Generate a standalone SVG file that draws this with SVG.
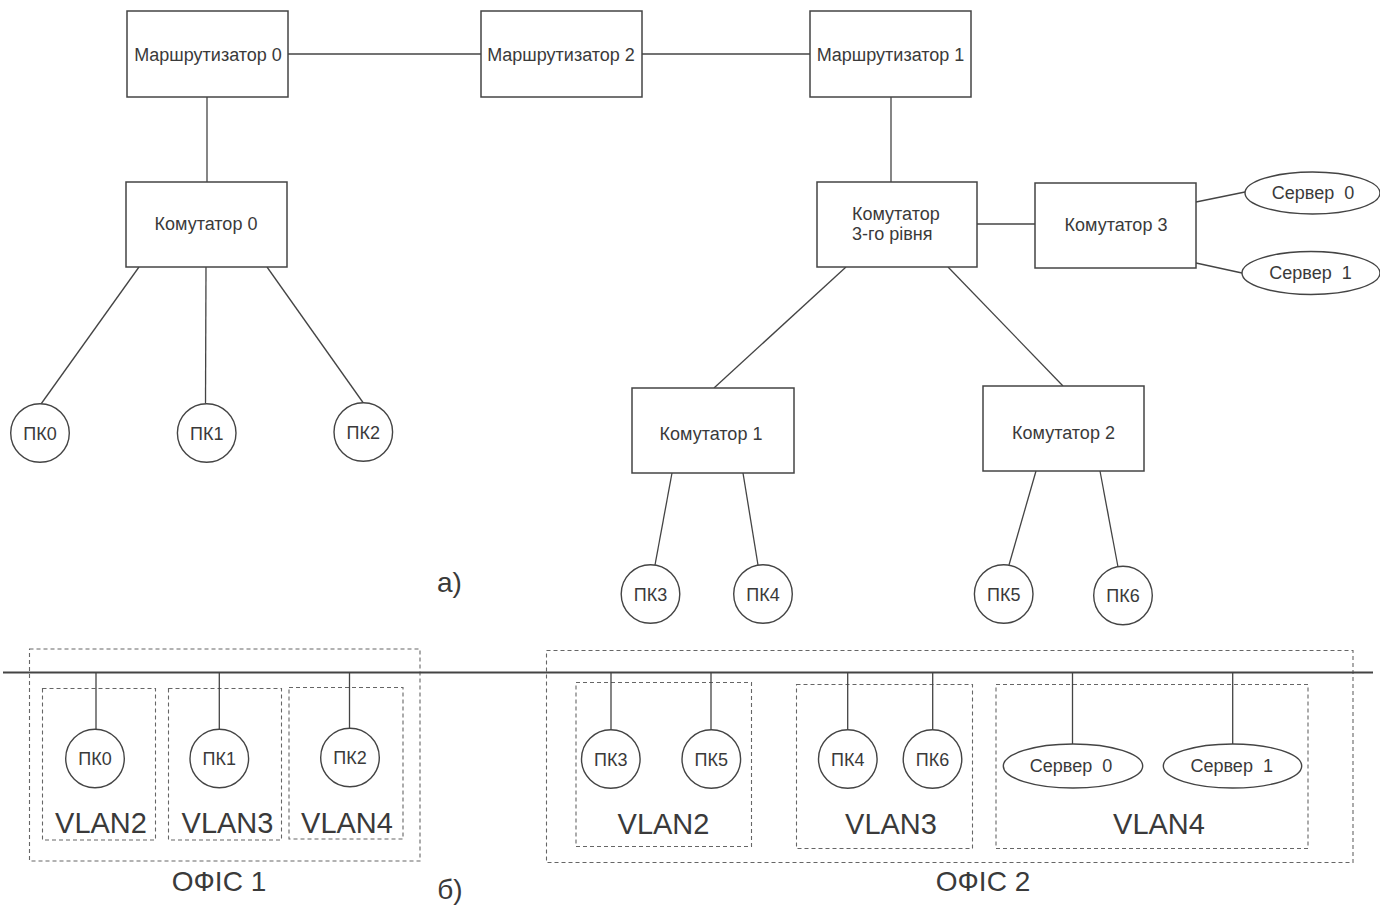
<svg xmlns="http://www.w3.org/2000/svg" width="1380" height="905" viewBox="0 0 1380 905">
  <style>
    .box { fill: #fff; stroke: #444; stroke-width: 1.5; }
    .pc { fill: #fff; stroke: #444; stroke-width: 1.4; }
    .link { stroke: #444; stroke-width: 1.3; fill: none; }
    .bus { stroke: #444; stroke-width: 2; fill: none; }
    .zone { fill: none; stroke: #666; stroke-width: 1.1; stroke-dasharray: 4 3; }
    text { font-family: "Liberation Sans", Arial, sans-serif; fill: #3a3a3a; }
    .lbl { font-size: 18px; text-anchor: middle; }
    .big { font-size: 29px; text-anchor: middle; }
    .cap { font-size: 28px; text-anchor: middle; }
  </style>

  <!-- (a) connectors -->
  <g id="connectors-a">
    <line class="link" x1="288" y1="54" x2="481" y2="54"/>
    <line class="link" x1="642" y1="54" x2="810" y2="54"/>
    <line class="link" x1="207" y1="97" x2="207" y2="182"/>
    <line class="link" x1="891" y1="97" x2="891" y2="182"/>
    <line class="link" x1="139" y1="267" x2="41" y2="404"/>
    <line class="link" x1="206" y1="267" x2="205.5" y2="403.5"/>
    <line class="link" x1="267" y1="267" x2="363" y2="402.5"/>
    <line class="link" x1="977" y1="224" x2="1035" y2="224"/>
    <line class="link" x1="1196" y1="202" x2="1245" y2="192"/>
    <line class="link" x1="1196" y1="263" x2="1242" y2="273"/>
    <line class="link" x1="846" y1="267" x2="714" y2="388"/>
    <line class="link" x1="948" y1="267" x2="1063" y2="386"/>
    <line class="link" x1="672" y1="473" x2="655" y2="565"/>
    <line class="link" x1="743" y1="473" x2="758" y2="565"/>
    <line class="link" x1="1036" y1="471" x2="1009" y2="565"/>
    <line class="link" x1="1100" y1="471" x2="1118" y2="567"/>
  </g>

  <!-- (a) nodes -->
  <g id="router0"><rect class="box" x="127" y="11" width="161" height="86"/><text class="lbl" x="208" y="61">Маршрутизатор 0</text></g>
  <g id="router2"><rect class="box" x="481" y="11" width="161" height="86"/><text class="lbl" x="561" y="61">Маршрутизатор 2</text></g>
  <g id="router1"><rect class="box" x="810" y="11" width="161" height="86"/><text class="lbl" x="890.5" y="61">Маршрутизатор 1</text></g>
  <g id="switch0"><rect class="box" x="126" y="182" width="161" height="85"/><text class="lbl" x="206" y="230">Комутатор 0</text></g>
  <g id="switch-l3"><rect class="box" x="817" y="182" width="160" height="85"/>
    <text x="852" y="220" style="font-size:18px">Комутатор</text>
    <text x="852" y="240" style="font-size:18px">3-го рівня</text></g>
  <g id="switch3"><rect class="box" x="1035" y="183" width="161" height="85"/><text class="lbl" x="1116" y="231">Комутатор 3</text></g>
  <g id="server0-a"><ellipse class="pc" cx="1312.5" cy="193" rx="67.5" ry="21"/><text class="lbl" x="1313" y="199" xml:space="preserve">Сервер  0</text></g>
  <g id="server1-a"><ellipse class="pc" cx="1311" cy="273" rx="69" ry="21.5"/><text class="lbl" x="1310.5" y="279" xml:space="preserve">Сервер  1</text></g>
  <g id="switch1"><rect class="box" x="632" y="388" width="162" height="85"/><text class="lbl" x="711" y="440">Комутатор 1</text></g>
  <g id="switch2"><rect class="box" x="983" y="386" width="161" height="85"/><text class="lbl" x="1063.5" y="439">Комутатор 2</text></g>
  <g id="pc0-a"><circle class="pc" cx="40" cy="433" r="29.3"/><text class="lbl" x="40" y="439.5">ПК0</text></g>
  <g id="pc1-a"><circle class="pc" cx="206.7" cy="433" r="29.3"/><text class="lbl" x="206.7" y="439.5">ПК1</text></g>
  <g id="pc2-a"><circle class="pc" cx="363.3" cy="432" r="29.3"/><text class="lbl" x="363.3" y="438.5">ПК2</text></g>
  <g id="pc3-a"><circle class="pc" cx="650.5" cy="594" r="29.3"/><text class="lbl" x="650.5" y="600.5">ПК3</text></g>
  <g id="pc4-a"><circle class="pc" cx="763" cy="594" r="29.3"/><text class="lbl" x="763" y="600.5">ПК4</text></g>
  <g id="pc5-a"><circle class="pc" cx="1003.7" cy="594" r="29.3"/><text class="lbl" x="1003.7" y="600.5">ПК5</text></g>
  <g id="pc6-a"><circle class="pc" cx="1123" cy="595.5" r="29.3"/><text class="lbl" x="1123" y="602">ПК6</text></g>

  <text class="cap" x="449.5" y="592">а)</text>

  <!-- (b) office zones -->
  <g id="office1">
    <rect class="zone" x="29.5" y="649" width="390.5" height="212"/>
    <text class="cap" x="219" y="891">ОФІС 1</text>
  </g>
  <g id="office2">
    <rect class="zone" x="546.5" y="650.5" width="806.5" height="212"/>
    <text class="cap" x="983" y="891">ОФІС 2</text>
  </g>
  <g id="vlans-office1">
    <rect class="zone" x="42.5" y="688.5" width="113" height="151.5"/>
    <rect class="zone" x="168.5" y="688.5" width="113" height="151.5"/>
    <rect class="zone" x="289" y="687.5" width="114" height="151.5"/>
    <text class="big" x="101" y="833">VLAN2</text>
    <text class="big" x="227.5" y="833">VLAN3</text>
    <text class="big" x="347" y="833">VLAN4</text>
  </g>
  <g id="vlans-office2">
    <rect class="zone" x="576" y="682.5" width="175.5" height="164"/>
    <rect class="zone" x="796.5" y="684.5" width="176" height="164"/>
    <rect class="zone" x="996" y="684.5" width="312" height="164"/>
    <text class="big" x="663.5" y="834">VLAN2</text>
    <text class="big" x="891" y="834">VLAN3</text>
    <text class="big" x="1159" y="833.5">VLAN4</text>
  </g>

  <!-- (b) connectors: shared bus and drops -->
  <g id="connectors-b">
    <line class="bus" x1="3" y1="672.5" x2="1373" y2="672.5"/>
    <line class="link" x1="96" y1="672.5" x2="96" y2="729.5"/>
    <line class="link" x1="219.3" y1="672.5" x2="219.3" y2="729.5"/>
    <line class="link" x1="349.5" y1="672.5" x2="349.5" y2="728.5"/>
    <line class="link" x1="611" y1="672.5" x2="611" y2="730"/>
    <line class="link" x1="711" y1="672.5" x2="711" y2="730"/>
    <line class="link" x1="847.7" y1="672.5" x2="847.7" y2="730"/>
    <line class="link" x1="932.7" y1="672.5" x2="932.7" y2="730"/>
    <line class="link" x1="1072.5" y1="672.5" x2="1072.5" y2="744"/>
    <line class="link" x1="1232.7" y1="672.5" x2="1232.7" y2="744"/>
  </g>

  <!-- (b) nodes -->
  <g id="pc0-b"><circle class="pc" cx="95" cy="758.5" r="29.3"/><text class="lbl" x="95" y="765">ПК0</text></g>
  <g id="pc1-b"><circle class="pc" cx="219.3" cy="758.5" r="29.3"/><text class="lbl" x="219.3" y="765">ПК1</text></g>
  <g id="pc2-b"><circle class="pc" cx="350" cy="757.5" r="29.3"/><text class="lbl" x="350" y="764">ПК2</text></g>
  <g id="pc3-b"><circle class="pc" cx="610.8" cy="759" r="29.3"/><text class="lbl" x="610.8" y="765.5">ПК3</text></g>
  <g id="pc5-b"><circle class="pc" cx="711.3" cy="759" r="29.3"/><text class="lbl" x="711.3" y="765.5">ПК5</text></g>
  <g id="pc4-b"><circle class="pc" cx="847.8" cy="759" r="29.3"/><text class="lbl" x="847.8" y="765.5">ПК4</text></g>
  <g id="pc6-b"><circle class="pc" cx="932.5" cy="759" r="29.3"/><text class="lbl" x="932.5" y="765.5">ПК6</text></g>
  <g id="server0-b"><ellipse class="pc" cx="1073" cy="766" rx="69.7" ry="22"/><text class="lbl" x="1071" y="772" xml:space="preserve">Сервер  0</text></g>
  <g id="server1-b"><ellipse class="pc" cx="1232.5" cy="766" rx="69.2" ry="22"/><text class="lbl" x="1231.7" y="772" xml:space="preserve">Сервер  1</text></g>

  <text class="cap" x="450" y="899">б)</text>
</svg>
